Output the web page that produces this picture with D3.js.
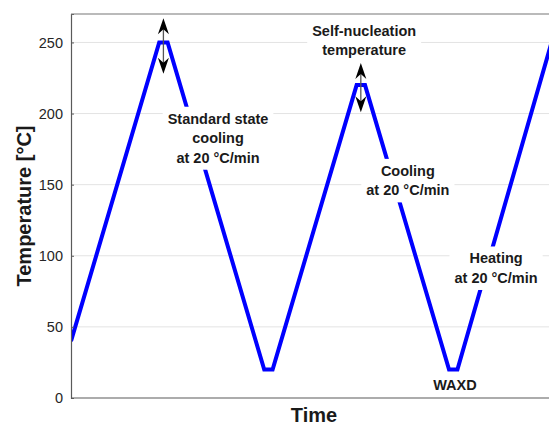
<!DOCTYPE html>
<html>
<head>
<meta charset="utf-8">
<script src="https://cdn.jsdelivr.net/npm/d3@7"></script>
<style>
  html, body { margin: 0; padding: 0; background: #fff; }
  svg { display: block; font-family: "Liberation Sans", Arial, sans-serif; }
</style>
</head>
<body>
<svg id="chart" width="549" height="428"></svg>
<script>
// Thermal protocol: time (min) and temperature (°C) at each corner of the program
const timeMin = [0, 10.5, 11.5, 23, 24, 34, 35, 45, 46, 57.2];
const temperature = [40, 250, 250, 20, 20, 220, 220, 20, 20, 250];

// Y axis ticks
const yTicks = [0, 50, 100, 150, 200, 250];

// Double-headed arrows marking the holding temperatures
const arrowTime = [11, 34.5];
const arrowFrom = [267, 235.5];
const arrowTo = [228, 201];

// Text annotations (anchor in data units)
const noteText = [
  ["Standard state", "cooling", "at 20 °C/min"],
  ["Self-nucleation", "temperature"],
  ["Cooling", "at 20 °C/min"],
  ["Heating", "at 20 °C/min"],
  ["WAXD"]
];
const noteTime = [17.5, 34.9, 40.1, 50.6, 45.7];
const noteTemp = [182.8, 251.4, 153, 91.4, 9.1];
const noteBox = [true, true, true, true, false];

const W = 549, H = 428;
const m = { left: 71, top: 14, right: 0, bottom: 30 };
const svg = d3.select("#chart");

const x = d3.scaleLinear().domain([0, 56.9]).range([m.left, W - m.right]);
const y = d3.scaleLinear().domain([0, 270]).range([H - m.bottom, m.top]);

// Grid lines
svg.append("g")
  .selectAll("line")
  .data(yTicks.filter(d => d > 0))
  .join("line")
  .attr("x1", m.left).attr("x2", W)
  .attr("y1", d => y(d)).attr("y2", d => y(d))
  .attr("stroke", "#e3e3e3").attr("stroke-width", 1);

// Temperature program
const pts = timeMin.map((t, i) => [t, temperature[i]]);
svg.append("defs").append("clipPath").attr("id", "plotclip")
  .append("rect").attr("x", m.left).attr("y", m.top)
  .attr("width", W - m.left).attr("height", H - m.bottom - m.top);

svg.append("path")
  .datum(pts)
  .attr("clip-path", "url(#plotclip)")
  .attr("fill", "none")
  .attr("stroke", "#0000ff")
  .attr("stroke-width", 4)
  .attr("stroke-linejoin", "miter")
  .attr("d", d3.line().x(d => x(d[0])).y(d => y(d[1])));

// Axes frame: left axis, bottom line and top line
const yAxis = d3.axisLeft(y).tickValues(yTicks).tickSize(-3).tickPadding(8);
const gy = svg.append("g").attr("transform", `translate(${m.left},0)`).call(yAxis);
gy.select(".domain").attr("stroke", "#5a5a5a").attr("stroke-width", 1.2);
gy.selectAll(".tick line").attr("stroke", "#5a5a5a");
gy.selectAll(".tick text")
  .attr("fill", "#262626")
  .style("font-size", "14.5px")
  .style("font-family", "'Liberation Sans', Arial, sans-serif");

svg.append("line")
  .attr("x1", m.left).attr("x2", W)
  .attr("y1", y(0)).attr("y2", y(0))
  .attr("stroke", "#5a5a5a").attr("stroke-width", 1.2);
svg.append("line")
  .attr("x1", m.left).attr("x2", W)
  .attr("y1", m.top).attr("y2", m.top)
  .attr("stroke", "#777").attr("stroke-width", 1.2);

// Text annotations with white backing boxes
const notes = svg.append("g");
noteText.forEach((lines, i) => {
  const g = notes.append("g");
  const cx = x(noteTime[i]), cy = y(noteTemp[i]);
  const lh = 19.5;
  const t = g.append("text")
    .attr("text-anchor", "middle")
    .attr("font-weight", "bold")
    .attr("font-size", "14.5px")
    .attr("fill", "#1a1a1a");
  lines.forEach((s, k) => {
    t.append("tspan")
      .attr("x", cx)
      .attr("y", cy + (k - (lines.length - 1) / 2) * lh)
      .attr("dy", "0.36em")
      .text(s);
  });
  if (noteBox[i]) {
    const b = t.node().getBBox();
    g.insert("rect", "text")
      .attr("x", b.x - 5).attr("y", b.y - 4)
      .attr("width", b.width + 10).attr("height", b.height + 8)
      .attr("fill", "#fff");
  }
});

// Double-headed arrows
const head = (xc, ytip, dir) => {
  // dir = -1 points up, +1 points down
  const L = 16, hw = 5.5, notch = 11;
  return `M${xc},${ytip} L${xc - hw},${ytip - dir * L} L${xc},${ytip - dir * notch} L${xc + hw},${ytip - dir * L} Z`;
};
const ag = svg.append("g");
arrowTime.forEach((t, i) => {
  const ax = x(t), y1 = y(arrowFrom[i]), y2 = y(arrowTo[i]);
  ag.append("line")
    .attr("x1", ax).attr("x2", ax)
    .attr("y1", y1 + 4).attr("y2", y2 - 4)
    .attr("stroke", "#555").attr("stroke-width", 1.3);
  ag.append("path").attr("d", head(ax, y1, -1)).attr("fill", "#000");
  ag.append("path").attr("d", head(ax, y2, 1)).attr("fill", "#000");
});

// Axis titles
svg.append("text")
  .attr("x", 314).attr("y", 422)
  .attr("text-anchor", "middle")
  .attr("font-weight", "bold")
  .attr("font-size", "20px")
  .attr("fill", "#1a1a1a")
  .text("Time");

svg.append("text")
  .attr("transform", `translate(31,${206}) rotate(-90)`)
  .attr("text-anchor", "middle")
  .attr("font-weight", "bold")
  .attr("font-size", "20px")
  .attr("fill", "#1a1a1a")
  .text("Temperature [°C]");
</script>
</body>
</html>
